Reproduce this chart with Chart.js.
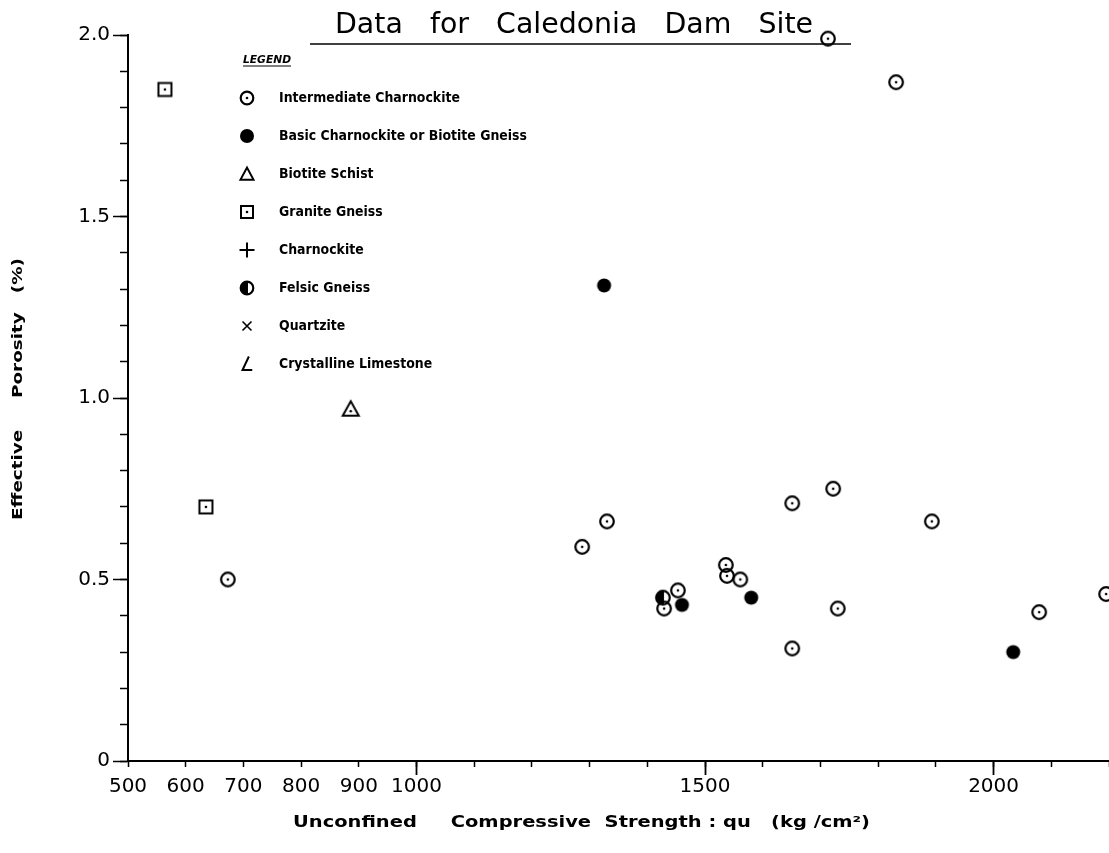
<!DOCTYPE html>
<html>
<head>
<meta charset="utf-8">
<title>Data for Caledonia Dam Site</title>
<script src="https://cdn.jsdelivr.net/npm/chart.js@4.4.1/dist/chart.umd.min.js"></script>
<style>
  html, body { margin: 0; background: #fff; }
  #wrap { width: 1109px; height: 853px; position: relative; }
</style>
</head>
<body>
<div id="wrap"><canvas id="porosityChart"></canvas></div>
<script>
// qu (kg/cm2) against effective porosity (%), one pair of arrays per rock type
const intermediateQu  = [673, 1287, 1330, 1536, 1538, 1561, 1453, 1429, 1651, 1651, 1722, 1730, 1893, 2079, 2195, 1713, 1831];
const intermediatePor = [0.50, 0.59, 0.66, 0.54, 0.51, 0.50, 0.47, 0.42, 0.71, 0.31, 0.75, 0.42, 0.66, 0.41, 0.46, 1.99, 1.87];

const basicQu  = [1325, 1460, 1580, 2034];
const basicPor = [1.31, 0.43, 0.45, 0.30];

const schistQu  = [425, 886];
const schistPor = [0.49, 0.97];

const graniteQu  = [564, 635];
const granitePor = [1.85, 0.70];

const felsicQu  = [1427];
const felsicPor = [0.45];

const legendLabels = [
  'Intermediate Charnockite',
  'Basic Charnockite or Biotite Gneiss',
  'Biotite Schist',
  'Granite Gneiss',
  'Charnockite',
  'Felsic Gneiss',
  'Quartzite',
  'Crystalline Limestone'
];
const legendSymbols = ['ringDot', 'disc', 'tri', 'squareDot', 'plus', 'half', 'cross', 'angle'];

const xLabelled = [500, 600, 700, 800, 900, 1000, 1500, 2000];
const xLongTicks = [1000, 1500, 2000];
const yLabelled = [0, 0.5, 1.0, 1.5, 2.0];

function pairs(xs, ys) {
  return xs.map((x, i) => ({ x: x, y: ys[i] }));
}

function drawSymbol(g, kind, cx, cy, r) {
  g.save();
  g.strokeStyle = '#000';
  g.fillStyle = '#000';
  g.lineWidth = 2;
  const dot = () => { g.beginPath(); g.arc(cx, cy, 1.3, 0, Math.PI * 2); g.fill(); };
  switch (kind) {
    case 'ringDot':
      g.lineWidth = 2.2;
      g.beginPath(); g.arc(cx, cy, r - 1.2, 0, Math.PI * 2); g.stroke();
      dot();
      break;
    case 'disc':
      g.beginPath(); g.arc(cx, cy, r - 0.5, 0, Math.PI * 2); g.fill();
      break;
    case 'tri':
    case 'triDot':
      g.beginPath();
      g.moveTo(cx - r + 1, cy + r * 0.75);
      g.lineTo(cx, cy - r * 0.85);
      g.lineTo(cx + r - 1, cy + r * 0.75);
      g.closePath(); g.stroke();
      if (kind === 'triDot') { g.beginPath(); g.arc(cx, cy + r * 0.25, 1.3, 0, Math.PI * 2); g.fill(); }
      break;
    case 'squareDot':
      g.strokeRect(cx - r + 1.5, cy - r + 1.5, 2 * r - 3, 2 * r - 3);
      dot();
      break;
    case 'plus':
      g.beginPath();
      g.moveTo(cx - r, cy); g.lineTo(cx + r, cy);
      g.moveTo(cx, cy - r); g.lineTo(cx, cy + r);
      g.stroke();
      break;
    case 'half':
      g.lineWidth = 2.2;
      g.beginPath(); g.arc(cx, cy, r - 1.2, 0, Math.PI * 2); g.stroke();
      g.beginPath(); g.arc(cx, cy, r - 1.2, Math.PI * 0.45, Math.PI * 1.55); g.closePath(); g.fill();
      break;
    case 'cross':
      g.lineWidth = 1.6;
      g.beginPath();
      g.moveTo(cx - r * 0.6, cy - r * 0.6); g.lineTo(cx + r * 0.6, cy + r * 0.6);
      g.moveTo(cx + r * 0.6, cy - r * 0.6); g.lineTo(cx - r * 0.6, cy + r * 0.6);
      g.stroke();
      break;
    case 'angle':
      g.beginPath();
      g.moveTo(cx + r * 0.25, cy - r);
      g.lineTo(cx - r * 0.6, cy + r * 0.8);
      g.lineTo(cx + r * 0.7, cy + r * 0.8);
      g.stroke();
      break;
  }
  g.restore();
}

function symbolCanvas(kind, r) {
  const c = document.createElement('canvas');
  c.width = c.height = Math.ceil(2 * r + 4);
  drawSymbol(c.getContext('2d'), kind, c.width / 2, c.height / 2, r);
  return c;
}

// draws text stretched or squeezed to a given width
function fitText(ctx, text, x, y, width, font, rotate) {
  ctx.save();
  ctx.font = font;
  ctx.textAlign = 'left';
  ctx.textBaseline = 'middle';
  const w = ctx.measureText(text).width;
  ctx.translate(x, y);
  if (rotate) ctx.rotate(-Math.PI / 2);
  ctx.scale(width / w, 1);
  ctx.fillText(text, rotate ? -w / 2 : 0, 0);
  ctx.restore();
}

const decor = {
  id: 'decor',
  afterDraw(chart) {
    const ctx = chart.ctx;
    ctx.save();
    ctx.fillStyle = '#000';
    ctx.strokeStyle = '#000';

    // heading with underline
    fitText(ctx, 'Data   for   Caledonia   Dam   Site', 335, 26, 478, '28px "DejaVu Sans"');
    ctx.lineWidth = 1.5;
    ctx.beginPath(); ctx.moveTo(310, 44); ctx.lineTo(851, 44); ctx.stroke();

    // legend block
    fitText(ctx, 'LEGEND', 243, 60, 48, 'bold italic 10px "DejaVu Sans"');
    ctx.lineWidth = 1;
    ctx.beginPath(); ctx.moveTo(243, 66); ctx.lineTo(291, 66); ctx.stroke();

    const legendFont = 'bold 14px "DejaVu Sans"';
    ctx.font = legendFont;
    const squeeze = 248 / ctx.measureText(legendLabels[1]).width;
    legendLabels.forEach((label, i) => {
      const y = 98 + 38 * i;
      drawSymbol(ctx, legendSymbols[i], 247, y, 7.5);
      ctx.font = legendFont;
      const w = ctx.measureText(label).width;
      fitText(ctx, label, 279, y, w * squeeze, legendFont);
    });

    // axis titles
    fitText(ctx, 'Unconfined     Compressive  Strength : qu   (kg /cm²)', 293, 823, 577, 'bold 15px "DejaVu Sans"');
    fitText(ctx, 'Effective     Porosity   (%)', 18, 389, 262, 'bold 14px "DejaVu Sans"', true);
    ctx.restore();
  }
};

const pointSet = (label, xs, ys, kind, r) => ({
  label: label,
  data: pairs(xs, ys),
  pointStyle: symbolCanvas(kind, r),
  pointRadius: r,
  showLine: false,
  clip: false
});

const tickFont = { family: 'DejaVu Sans', size: 20 };

// the x axis runs to the right edge of the canvas
const noSidePadding = s => { s.paddingLeft = 0; s.paddingRight = 0; };

new Chart(document.getElementById('porosityChart'), {
  type: 'scatter',
  data: {
    datasets: [
      pointSet(legendLabels[0], intermediateQu, intermediatePor, 'ringDot', 8),
      pointSet(legendLabels[1], basicQu, basicPor, 'disc', 7.5),
      pointSet(legendLabels[2], schistQu, schistPor, 'triDot', 9),
      pointSet(legendLabels[3], graniteQu, granitePor, 'squareDot', 8),
      pointSet(legendLabels[5], felsicQu, felsicPor, 'half', 8)
    ]
  },
  options: {
    responsive: true,
    maintainAspectRatio: false,
    animation: false,
    events: [],
    layout: { autoPadding: false, padding: { top: 35, left: 0, right: 0, bottom: 0 } },
    plugins: { legend: { display: false }, tooltip: { enabled: false } },
    scales: {
      // axis line and short ticks every 100
      xm: {
        type: 'linear', position: 'bottom', weight: 0,
        min: 500, max: 2200,
        afterFit: s => { s.height = 0; noSidePadding(s); },
        ticks: { stepSize: 100, display: false },
        grid: { drawOnChartArea: false, tickLength: 6, tickWidth: 1.5, tickColor: '#000' },
        border: { display: true, color: '#000', width: 2 }
      },
      x: {
        type: 'linear', position: 'bottom', weight: 1,
        min: 500, max: 2200,
        afterFit: s => { s.height = 92; noSidePadding(s); },
        ticks: {
          stepSize: 100, autoSkip: false, maxRotation: 0,
          color: '#000', font: tickFont, padding: 0,
          callback: v => xLabelled.includes(Math.round(v)) ? String(Math.round(v)) : ''
        },
        grid: {
          drawOnChartArea: false, tickLength: 14, tickWidth: 1.8,
          tickColor: c => xLongTicks.includes(Math.round(c.tick.value)) ? '#000' : 'rgba(0,0,0,0)'
        },
        border: { display: false }
      },
      ym: {
        type: 'linear', position: 'left', weight: 0,
        min: 0, max: 2.0,
        afterFit: s => { s.width = 0; },
        ticks: { stepSize: 0.1, display: false },
        grid: { drawOnChartArea: false, tickLength: 8, tickWidth: 1.5, tickColor: '#000' },
        border: { display: true, color: '#000', width: 2 }
      },
      y: {
        type: 'linear', position: 'left', weight: 1,
        min: 0, max: 2.0,
        afterFit: s => { s.width = 128; },
        ticks: {
          stepSize: 0.5, autoSkip: false, color: '#000', font: tickFont, padding: 3,
          callback: v => yLabelled.includes(v) ? (v === 0 ? '0' : v.toFixed(1)) : ''
        },
        grid: { drawOnChartArea: false, tickLength: 15, tickWidth: 1.5, tickColor: '#000' },
        border: { display: false }
      }
    }
  },
  plugins: [decor]
});
</script>
</body>
</html>
